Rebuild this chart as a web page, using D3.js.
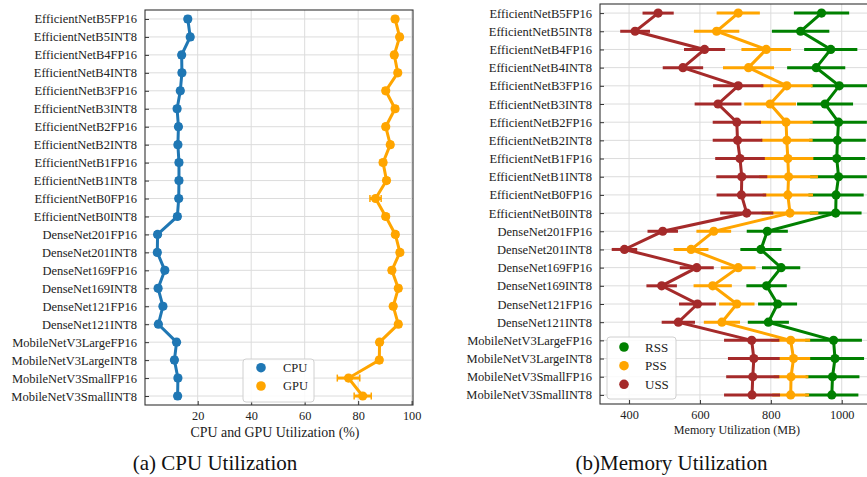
<!DOCTYPE html>
<html><head><meta charset="utf-8">
<script src="https://cdn.jsdelivr.net/npm/d3@7"></script>
<style>
html,body{margin:0;padding:0;background:#fff;}
svg{display:block;font-family:"Liberation Serif","Times New Roman",serif;}
</style></head>
<body><svg id="c" width="867" height="477"></svg>
<script>
const models = ["EfficientNetB5FP16","EfficientNetB5INT8","EfficientNetB4FP16","EfficientNetB4INT8",
"EfficientNetB3FP16","EfficientNetB3INT8","EfficientNetB2FP16","EfficientNetB2INT8",
"EfficientNetB1FP16","EfficientNetB1INT8","EfficientNetB0FP16","EfficientNetB0INT8",
"DenseNet201FP16","DenseNet201INT8","DenseNet169FP16","DenseNet169INT8",
"DenseNet121FP16","DenseNet121INT8","MobileNetV3LargeFP16","MobileNetV3LargeINT8",
"MobileNetV3SmallFP16","MobileNetV3SmallINT8"];

const cpu     = [16.3,17.2,14.0,14.1,13.5,12.3,12.8,12.6,13.0,13.0,12.9,12.4,5.0,4.9,7.7,5.2,7.0,5.3,12.1,11.3,12.6,12.5];
const cpuErr  = [1,1,1,1,1,1,1,1,1,1,1,1,1,1,1,1,1,1,1,1,1,1];
const gpu     = [93.8,95.5,93.5,94.8,90.3,93.8,90.3,92.0,89.3,90.6,86.5,90.3,93.9,95.6,92.6,95.0,93.1,95.0,88.0,87.9,76.4,81.7];
const gpuErr  = [1,1,1,1,1,1,1,1,1,1,2.1,1,1,1,1,1,1,1,1,1,4.2,3.2];

const rss     = [943,884,969,928,993,953,991,988,986,991,984,983,790,772,829,788,819,793,977,981,974,972];
const rssErr  = [78,81,75,82,80,79,80,80,80,80,78,73,58,58,54,57,55,58,80,82,76,75];
const pss     = [708,647,787,737,845,798,843,845,848,850,848,854,639,575,708,636,704,662,856,864,857,856];
const pssErr  = [61,64,70,72,73,73,75,73,72,83,71,80,49,49,49,54,50,51,55,47,49,52];
const uss     = [482,417,613,552,708,651,704,706,713,718,717,732,495,387,591,492,593,539,746,752,749,747];
const ussErr  = [44,42,58,57,71,66,68,70,70,72,70,75,43,36,48,43,52,47,78,73,75,79];

const cpuTicks = [20,40,60,80,100];
const memTicks = [400,600,800,1000];

const svg = d3.select("#c");
const gridCol = "#dcdcdc", frameCol = "#333";

function panel(cfg){
  const g = svg.append("g");
  const x = d3.scaleLinear().domain(cfg.xdom).range([cfg.x0, cfg.x1]);
  const y = d3.scalePoint().domain(models).range([cfg.y0, cfg.y1]).padding(0.5);
  // grid
  g.selectAll(".vg").data(cfg.ticks).enter().append("line")
    .attr("x1", d=>x(d)).attr("x2", d=>x(d)).attr("y1", cfg.y0).attr("y2", cfg.y1)
    .attr("stroke", gridCol).attr("stroke-width", 1);
  g.selectAll(".hg").data(models).enter().append("line")
    .attr("x1", cfg.x0).attr("x2", cfg.x1).attr("y1", d=>y(d)).attr("y2", d=>y(d))
    .attr("stroke", gridCol).attr("stroke-width", 1);
  // axes
  const ax = d3.axisBottom(x).tickValues(cfg.ticks).tickSize(-4).tickPadding(6).tickFormat(d3.format("d"));
  const axg = g.append("g").attr("transform", `translate(0,${cfg.y1})`).call(ax);
  axg.select(".domain").remove();
  axg.selectAll("line").attr("stroke", frameCol);
  axg.selectAll("text").attr("font-size", 12.3).attr("fill", "#222").attr("font-family", "Liberation Serif");
  const ay = d3.axisLeft(y).tickSize(-4).tickPadding(8);
  const ayg = g.append("g").attr("transform", `translate(${cfg.x0},0)`).call(ay);
  ayg.select(".domain").remove();
  ayg.selectAll("line").attr("stroke", frameCol);
  ayg.selectAll("text").attr("font-size", 12.5).attr("fill", "#222").attr("font-family", "Liberation Serif");
  // series
  cfg.series.forEach(s => {
    const sg = g.append("g");
    const rows = models.map((m,i)=>({m, v:s.v[i], e:s.e[i]}));
    sg.selectAll(".eb").data(rows).enter().append("line")
      .attr("x1", d=>x(d.v-d.e)).attr("x2", d=>x(d.v+d.e))
      .attr("y1", d=>y(d.m)).attr("y2", d=>y(d.m))
      .attr("stroke", s.c).attr("stroke-width", 3);
    if (cfg.caps){
      sg.selectAll(".cap").data(rows.flatMap(d=>[{m:d.m,v:d.v-d.e},{m:d.m,v:d.v+d.e}])).enter().append("line")
        .attr("x1", d=>x(d.v)).attr("x2", d=>x(d.v))
        .attr("y1", d=>y(d.m)-3.5).attr("y2", d=>y(d.m)+3.5)
        .attr("stroke", s.c).attr("stroke-width", 1.5);
    }
    sg.append("path").datum(rows)
      .attr("d", d3.line().x(d=>x(d.v)).y(d=>y(d.m)))
      .attr("fill","none").attr("stroke", s.c).attr("stroke-width", 3);
    sg.selectAll("circle").data(rows).enter().append("circle")
      .attr("cx", d=>x(d.v)).attr("cy", d=>y(d.m)).attr("r", 4.6).attr("fill", s.c);
  });
  // frame
  g.append("rect").attr("x", cfg.x0).attr("y", cfg.y0).attr("width", cfg.x1-cfg.x0).attr("height", cfg.y1-cfg.y0)
    .attr("fill","none").attr("stroke", frameCol).attr("stroke-width", 1.1);
  // legend
  const L = cfg.legend;
  g.append("rect").attr("x", L.x).attr("y", L.y).attr("width", L.w).attr("height", L.h)
    .attr("rx", 3).attr("fill", "#fff").attr("fill-opacity", 0.85).attr("stroke", "#d0d0d0");
  L.items.forEach((it, k) => {
    g.append("circle").attr("cx", L.mx).attr("cy", L.ry[k]).attr("r", 4.8).attr("fill", it.c);
    g.append("text").attr("x", L.tx).attr("y", L.ry[k]).attr("dy", "0.35em")
      .attr("font-size", L.fs).attr("fill", "#222").text(it.t);
  });
  // labels
  g.append("text").attr("x", (cfg.x0+Math.min(cfg.x1,867))/2 + cfg.xlOff).attr("y", cfg.xlY)
    .attr("text-anchor","middle").attr("font-size", cfg.xlFs).attr("fill","#222").text(cfg.xlabel);
  g.append("text").attr("x", cfg.capX).attr("y", 470)
    .attr("text-anchor","middle").attr("font-size", 21).attr("fill","#111").text(cfg.caption);
}

panel({
  x0:145, x1:413, y0:10, y1:405, xdom:[0.3,100.5], ticks:cpuTicks, caps:true,
  series:[{v:cpu,e:cpuErr,c:"#1f77b4"},{v:gpu,e:gpuErr,c:"#ffa500"}],
  legend:{x:243,y:359,w:71,h:43,mx:261,tx:283,ry:[367.7,386],fs:12.5,
    items:[{t:"CPU",c:"#1f77b4"},{t:"GPU",c:"#ffa500"}]},
  xlabel:"CPU and GPU Utilization (%)", xlFs:13.9, xlY:436.5, xlOff:-4,
  caption:"(a) CPU Utilization", capX:215
});

panel({
  x0:600, x1:880, y0:4, y1:404, xdom:[318,1108], ticks:memTicks, caps:false,
  series:[{v:rss,e:rssErr,c:"#008000"},{v:pss,e:pssErr,c:"#ffa500"},{v:uss,e:ussErr,c:"#a52a2a"}],
  legend:{x:607,y:337,w:69,h:62,mx:624,tx:645,ry:[347,365.7,384.3],fs:13,
    items:[{t:"RSS",c:"#008000"},{t:"PSS",c:"#ffa500"},{t:"USS",c:"#a52a2a"}]},
  xlabel:"Memory Utilization (MB)", xlFs:12.1, xlY:434, xlOff:3.5,
  caption:"(b)Memory Utilization", capX:671.5
});
</script></body></html>
